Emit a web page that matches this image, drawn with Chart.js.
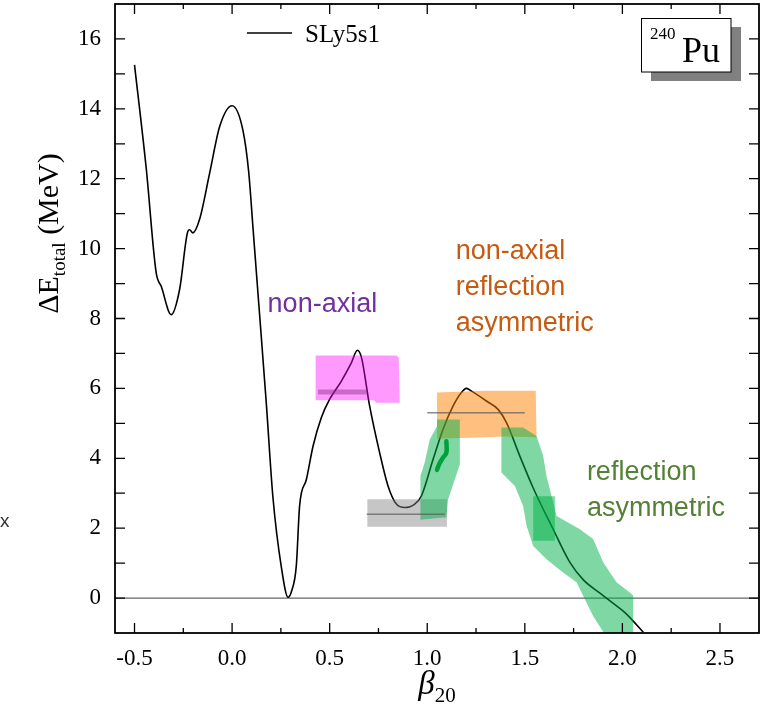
<!DOCTYPE html>
<html lang="en">

<head>
    <meta charset="UTF-8">
    <title>240Pu total energy</title>
    <script src="https://cdn.jsdelivr.net/npm/chart.js"></script>
    <style>
        body {
            margin: 0;
            background: #fff;
        }

        .chart-container {
            width: 774px;
            height: 718px;
        }
    </style>
</head>

<body>
    <div class="chart-container">
        <canvas id="pesChart" width="774" height="718"></canvas>
    </div>

    <script>
        // SLy5s1 total energy curve vs beta20
        const betaValues = [-0.5, -0.44, -0.389, -0.363, -0.312, -0.269, -0.227, -0.218, -0.201, -0.167, -0.115, -0.064, 0.0,
            0.055, 0.085, 0.107, 0.137, 0.175, 0.209, 0.252, 0.287, 0.305, 0.329, 0.346, 0.381, 0.415, 0.457, 0.5, 0.56,
            0.611, 0.642, 0.663, 0.705, 0.756, 0.799, 0.842, 0.885, 0.936, 0.97, 1.03, 1.081, 1.132, 1.175, 1.201, 1.227,
            1.303, 1.363, 1.406, 1.474, 1.543, 1.645, 1.731, 1.80, 1.885, 1.95, 2.021, 2.107];
        const energyValues = [15.26, 12.3, 9.31, 8.92, 8.11, 8.83, 10.49, 10.54, 10.45, 10.83, 12.16, 13.49, 14.09,
            13.4, 12.2, 10.6, 8.4, 5.6, 2.9, 0.9, 0.02, 0.2, 0.92, 2.64, 3.4, 4.35, 5.16, 5.69, 6.21,
            6.73, 7.09, 6.88, 5.49, 4.16, 3.21, 2.69, 2.59, 2.69, 2.92, 3.97, 4.83, 5.49, 5.88, 6.0, 5.92,
            5.64, 5.4, 5.02, 4.07, 3.15, 1.97, 1.02, 0.52, 0.14, -0.14, -0.46, -0.98];

        // shaded regions (beta20, MeV)
        const nonAxialX = [0.428, 0.842, 0.854, 0.859, 0.739, 0.727, 0.428];
        const nonAxialY = [6.94, 6.94, 6.88, 5.59, 5.59, 5.66, 5.66];
        const nonAxialLevelX = [0.44, 0.69];
        const nonAxialLevelY = [5.9, 5.9];

        const axialX = [0.693, 1.101, 1.101, 0.693];
        const axialY = [2.83, 2.83, 2.04, 2.04];
        const axialLevelX = [0.69, 1.09];
        const axialLevelY = [2.4, 2.4];

        const nonAxialAsymX = [1.05, 1.3, 1.556, 1.56, 1.4, 1.05];
        const nonAxialAsymY = [5.88, 5.93, 5.93, 4.6, 4.62, 4.56];
        const nonAxialAsymLevelX = [1.0, 1.5];
        const nonAxialAsymLevelY = [5.3, 5.3];

        const asymLeftX = [1.05, 1.167, 1.167, 1.124, 1.107, 1.098, 0.965, 0.965, 0.987, 1.013, 1.05];
        const asymLeftY = [5.11, 5.11, 3.83, 3.11, 2.83, 2.31, 2.24, 3.49, 3.88, 4.54, 4.92];
        const asymRightX = [1.38, 1.491, 1.56, 1.594, 1.611, 1.663, 1.782, 1.85, 1.902, 1.97, 2.038, 2.055, 2.055,
            1.919, 1.85, 1.765, 1.696, 1.611, 1.543, 1.509, 1.491, 1.449, 1.38];
        const asymRightY = [4.88, 4.88, 4.64, 4.07, 3.49, 2.35, 1.97, 1.69, 1.02, 0.45, 0.16, 0.07, -1.12,
            -1.12, -0.51, 0.45, 0.73, 1.11, 1.49, 2.07, 2.64, 3.21, 3.59];
        const asymBlockX = [1.543, 1.654, 1.654, 1.543];
        const asymBlockY = [2.91, 2.91, 1.64, 1.64];
        const asymPathX = [1.098, 1.098, 1.081, 1.061, 1.05];
        const asymPathY = [4.49, 4.16, 4.02, 3.83, 3.67];

        const xTickValues = [-0.5, 0.0, 0.5, 1.0, 1.5, 2.0, 2.5];
        const yTickValues = [0, 2, 4, 6, 8, 10, 12, 14, 16];

        const zip = (xs, ys) => xs.map((x, i) => ({ x: x, y: ys[i] }));

        const serif = "'Liberation Serif', 'DejaVu Serif', serif";
        const sans = "'Liberation Sans', Arial, sans-serif";

        function region(xs, ys, color, extra) {
            return Object.assign({
                data: zip(xs, ys),
                showLine: true,
                fill: 'shape',
                backgroundColor: color,
                borderWidth: 0,
                borderColor: 'rgba(0,0,0,0)',
                pointRadius: 0,
                tension: 0,
                order: 2
            }, extra || {});
        }

        function level(xs, ys, color, width) {
            return {
                data: zip(xs, ys),
                showLine: true,
                borderColor: color,
                borderWidth: width,
                pointRadius: 0,
                fill: false,
                order: 1
            };
        }

        const green = 'rgba(0,178,72,0.5)';

        // frame, inner tick marks, titles, legend, nucleus label, annotations
        const decor = {
            id: 'decor',
            afterDraw(chart) {
                const ctx = chart.ctx;
                const a = chart.chartArea;
                const xs = chart.scales.x;
                const ys = chart.scales.y;
                ctx.save();

                ctx.strokeStyle = '#000';
                ctx.lineWidth = 1.3;
                ctx.beginPath();
                xTickValues.forEach((v, i) => {
                    const px = xs.getPixelForValue(v);
                    ctx.moveTo(px, a.bottom); ctx.lineTo(px, a.bottom - 10);
                    ctx.moveTo(px, a.top); ctx.lineTo(px, a.top + 10);
                    const m = xs.getPixelForValue(v + 0.25);
                    if (m < a.right) {
                        ctx.moveTo(m, a.bottom); ctx.lineTo(m, a.bottom - 5);
                        ctx.moveTo(m, a.top); ctx.lineTo(m, a.top + 5);
                    }
                });
                for (let v = yTickValues[0]; v <= yTickValues[yTickValues.length - 1]; v++) {
                    const py = ys.getPixelForValue(v);
                    ctx.moveTo(a.left, py); ctx.lineTo(a.left + 10, py);
                    ctx.moveTo(a.right, py); ctx.lineTo(a.right - 10, py);
                }
                ctx.stroke();
                ctx.lineWidth = 1.8;
                ctx.strokeRect(a.left, a.top, a.right - a.left, a.bottom - a.top);

                // y title: ΔE_total (MeV)
                ctx.fillStyle = '#000';
                ctx.textBaseline = 'alphabetic';
                ctx.translate(58, (a.top + a.bottom) / 2 - 85);
                ctx.rotate(-Math.PI / 2);
                const yParts = [['ΔE', 30, 0], ['total', 19, 7], [' (MeV)', 30, 0]];
                let w = 0;
                yParts.forEach(p => { ctx.font = p[1] + 'px ' + serif; w += ctx.measureText(p[0]).width; });
                let cx = -w / 2;
                yParts.forEach(p => {
                    ctx.font = p[1] + 'px ' + serif;
                    ctx.fillText(p[0], cx, p[2]);
                    cx += ctx.measureText(p[0]).width;
                });
                ctx.setTransform(1, 0, 0, 1, 0, 0);

                // x title: β20
                ctx.font = 'italic 33px ' + serif;
                const bw = ctx.measureText('β').width;
                ctx.font = '21px ' + serif;
                const sw = ctx.measureText('20').width;
                const bx = 437 - (bw + sw) / 2;
                ctx.font = 'italic 33px ' + serif;
                ctx.fillText('β', bx, 694);
                ctx.font = '21px ' + serif;
                ctx.fillText('20', bx + bw, 702);

                // legend
                ctx.lineWidth = 1.5;
                ctx.beginPath();
                ctx.moveTo(247, 33); ctx.lineTo(292, 33);
                ctx.stroke();
                ctx.font = '25px ' + serif;
                ctx.fillText('SLy5s1', 305, 42);

                // nucleus label box with shadow
                ctx.fillStyle = '#808080';
                ctx.fillRect(651, 27, 90, 54);
                ctx.fillStyle = '#fff';
                ctx.fillRect(641.5, 18.5, 89.5, 53.5);
                ctx.lineWidth = 1;
                ctx.strokeRect(641.5, 18.5, 89.5, 53.5);
                ctx.fillStyle = '#000';
                ctx.font = '17px ' + serif;
                ctx.fillText('240', 650, 39);
                ctx.font = '36px ' + serif;
                ctx.fillText('Pu', 682, 62);

                // region labels
                const note = (lines, color, x, y) => {
                    ctx.fillStyle = color;
                    ctx.font = '27px ' + sans;
                    lines.forEach((t, i) => ctx.fillText(t, xs.getPixelForValue(x), ys.getPixelForValue(y) + i * 36));
                };
                note(['non-axial'], '#7030a0', 0.182, 8.2);
                note(['non-axial', 'reflection', 'asymmetric'], '#c55a11', 1.146, 9.69);
                note(['reflection', 'asymmetric'], '#538135', 1.818, 3.37);

                ctx.fillStyle = '#333';
                ctx.font = '19px ' + sans;
                ctx.fillText('x', 0, 527);
                ctx.restore();
            }
        };

        const ctx = document.getElementById('pesChart').getContext('2d');
        const chart = new Chart(ctx, {
            type: 'scatter',
            data: {
                datasets: [
                    {
                        data: zip(asymPathX, asymPathY),
                        showLine: true,
                        borderColor: '#00a03c',
                        borderWidth: 4.5,
                        borderCapStyle: 'round',
                        borderJoinStyle: 'round',
                        pointRadius: 0,
                        tension: 0.4,
                        order: 0
                    },
                    level(nonAxialLevelX, nonAxialLevelY, 'rgba(130,50,130,0.45)', 5),
                    level(axialLevelX, axialLevelY, 'rgba(90,90,90,0.7)', 1.5),
                    level(nonAxialAsymLevelX, nonAxialAsymLevelY, 'rgba(90,90,90,0.7)', 1.5),
                    region(asymBlockX, asymBlockY, green),
                    region(asymLeftX, asymLeftY, green),
                    region(asymRightX, asymRightY, green, { clip: { left: 0, top: 0, right: 0, bottom: 8 } }),
                    region(nonAxialAsymX, nonAxialAsymY, 'rgba(255,128,0,0.5)'),
                    region(axialX, axialY, 'rgba(128,128,128,0.45)'),
                    region(nonAxialX, nonAxialY, 'rgba(255,0,255,0.4)'),
                    {
                        label: 'SLy5s1',
                        data: zip(betaValues, energyValues),
                        showLine: true,
                        borderColor: '#000',
                        borderWidth: 1.6,
                        cubicInterpolationMode: 'monotone',
                        pointRadius: 0,
                        order: 9
                    },
                    {
                        data: [{ x: -0.6, y: 0 }, { x: 2.7, y: 0 }],
                        showLine: true,
                        borderColor: '#666',
                        borderWidth: 1.2,
                        pointRadius: 0,
                        order: 10
                    }
                ]
            },
            options: {
                responsive: false,
                animation: false,
                events: [],
                layout: {
                    padding: { top: 4, right: 15, left: 0, bottom: 0 }
                },
                plugins: {
                    legend: { display: false },
                    tooltip: { enabled: false }
                },
                scales: {
                    x: {
                        type: 'linear',
                        min: -0.6,
                        max: 2.7,
                        afterBuildTicks: s => { s.ticks = xTickValues.map(v => ({ value: v })); },
                        afterFit: s => { s.height = 85; s.paddingLeft = 0; s.paddingRight = 0; },
                        grid: { display: false, drawTicks: false },
                        border: { display: false },
                        ticks: {
                            color: '#000',
                            padding: 12,
                            maxRotation: 0,
                            font: { family: serif, size: 23 },
                            callback: v => v.toFixed(1)
                        }
                    },
                    y: {
                        type: 'linear',
                        min: -1,
                        max: 17,
                        afterBuildTicks: s => { s.ticks = yTickValues.map(v => ({ value: v })); },
                        afterFit: s => { s.width = 115; s.paddingTop = 0; s.paddingBottom = 0; },
                        grid: { display: false, drawTicks: false },
                        border: { display: false },
                        ticks: {
                            color: '#000',
                            padding: 14,
                            font: { family: serif, size: 23 }
                        }
                    }
                }
            },
            plugins: [decor]
        });
    </script>
</body>

</html>
